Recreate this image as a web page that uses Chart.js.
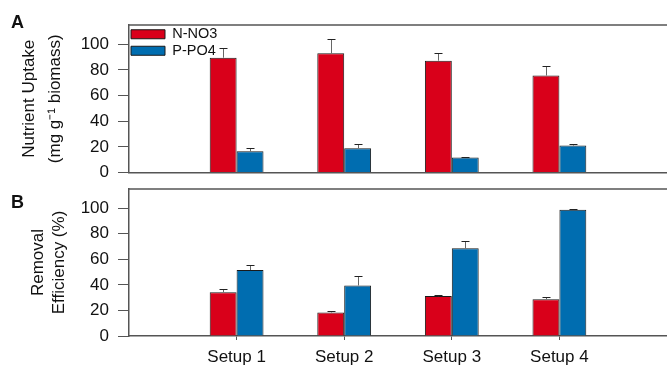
<!DOCTYPE html>
<html>
<head>
<meta charset="utf-8">
<script src="https://cdn.jsdelivr.net/npm/chart.js@4.4.0/dist/chart.umd.min.js"></script>
<style>
  html, body { margin: 0; padding: 0; background: #fff; }
  #wrap { position: relative; width: 667px; height: 367px; overflow: hidden; font-family: 'Liberation Sans', Arial, sans-serif; }
  canvas { position: absolute; left: 0; }
  #chartA { top: 0; }
  #chartB { top: 180px; }
  .tag { position: absolute; left: 11px; font-weight: bold; font-size: 18px; line-height: 1; color: #111; }
</style>
</head>
<body>
<div id="wrap">
  <canvas id="chartA" width="667" height="183"></canvas>
  <canvas id="chartB" width="667" height="187"></canvas>
  <div class="tag" style="top:13px">A</div>
  <div class="tag" style="top:193px">B</div>
</div>
<script>
'use strict';

// data
const setups = ['Setup 1', 'Setup 2', 'Setup 3', 'Setup 4'];
const seriesNames = ['N-NO3', 'P-PO4'];

const uptakeN = [89.5, 92.9, 87.2, 75.6];
const uptakeNErr = [7.3, 11.1, 6.2, 7.1];
const uptakeP = [16.5, 18.9, 11.6, 21.0];
const uptakePErr = [2.6, 3.4, 0.8, 1.0];

const removalN = [34.3, 18.4, 31.2, 28.8];
const removalNErr = [2.4, 1.2, 1.0, 1.8];
const removalP = [51.6, 39.5, 68.6, 98.7];
const removalPErr = [3.9, 7.6, 6.0, 0.3];

const yMax = 115;
const yStep = 20;

const colors = {
  red: '#D9001A',
  blue: '#006DB0',
  edge: '#1a1a1a',
  axis: '#555555',
  text: '#111111'
};

Chart.defaults.font.family = "'Liberation Sans', Arial, sans-serif";
Chart.defaults.color = colors.text;

// empty slot at each end so the groups sit where they do in the figure
const labels = [''].concat(setups, ['']);
const pad = arr => [null].concat(arr, [null]);

const errorBars = {
  id: 'errorBars',
  afterDatasetsDraw(chart) {
    const ctx = chart.ctx;
    const y = chart.scales.y;
    chart.data.datasets.forEach((ds, i) => {
      const meta = chart.getDatasetMeta(i);
      meta.data.forEach((bar, j) => {
        const v = ds.data[j];
        const e = ds.errors[j];
        if (v == null || e == null) return;
        const top = Math.round(y.getPixelForValue(v + e)) + 0.5;
        const x = Math.round(bar.x) + 0.5;
        ctx.save();
        ctx.lineWidth = 1;
        ctx.strokeStyle = '#666';
        ctx.beginPath();
        ctx.moveTo(x, bar.y);
        ctx.lineTo(x, top);
        ctx.stroke();
        ctx.strokeStyle = '#222';
        ctx.beginPath();
        ctx.moveTo(x - 4, top);
        ctx.lineTo(x + 4, top);
        ctx.stroke();
        ctx.restore();
      });
    });
  }
};

// frame line on top of the plot + keep the legend inside the plot area
const frame = {
  id: 'frame',
  afterLayout(chart) {
    const lg = chart.legend;
    if (lg && lg.options.display) {
      lg.top = chart.chartArea.top;
      lg.bottom = lg.top + lg.height;
    }
  },
  afterDraw(chart) {
    const { ctx, chartArea: a } = chart;
    ctx.save();
    ctx.strokeStyle = colors.axis;
    ctx.lineWidth = 1.5;
    ctx.beginPath();
    ctx.moveTo(a.left, a.top);
    ctx.lineTo(a.right, a.top);
    ctx.stroke();
    ctx.restore();
  }
};

function makeDatasets(nVals, nErr, pVals, pErr) {
  return [
    { label: seriesNames[0], data: pad(nVals), errors: pad(nErr), backgroundColor: colors.red, borderColor: colors.edge, borderWidth: 1 },
    { label: seriesNames[1], data: pad(pVals), errors: pad(pErr), backgroundColor: colors.blue, borderColor: colors.edge, borderWidth: 1 }
  ];
}

function makeOptions(o) {
  return {
    responsive: false,
    animation: false,
    layout: { padding: { top: o.padTop, left: 0, right: 0, bottom: 0 } },
    datasets: { bar: { categoryPercentage: 0.5, barPercentage: 1.0 } },
    plugins: {
      tooltip: { enabled: false },
      legend: {
        display: o.legend,
        position: 'chartArea',
        align: 'start',
        labels: { boxWidth: 34, boxHeight: 9, padding: 2, font: { size: 14.5 }, color: colors.text }
      }
    },
    scales: {
      x: {
        offset: false,
        border: { display: true, color: colors.axis, width: 1.5 },
        grid: {
          display: true,
          offset: false,
          drawOnChartArea: false,
          drawTicks: o.showX,
          tickLength: 4,
          tickColor: c => (labels[c.index] ? colors.axis : 'rgba(0,0,0,0)')
        },
        ticks: { display: o.showX, autoSkip: false, maxRotation: 0, padding: 7, font: { size: 17 }, color: colors.text },
        afterFit: s => { s.height = o.xHeight; s.paddingLeft = 0; s.paddingRight = 0; }
      },
      y: {
        min: 0,
        max: yMax,
        border: { display: true, color: colors.axis, width: 1.5 },
        grid: { display: true, drawOnChartArea: false, drawTicks: true, tickLength: 11, tickColor: colors.axis },
        ticks: { stepSize: yStep, includeBounds: false, padding: 9, font: { size: 17 }, color: colors.text },
        title: {
          display: true,
          text: o.title,
          color: colors.text,
          font: { size: 17, lineHeight: o.titleLH },
          padding: { top: o.titlePad, bottom: 0 }
        },
        afterFit: s => { s.width = 129; s.paddingTop = 0; s.paddingBottom = 0; }
      }
    }
  };
}

new Chart(document.getElementById('chartA'), {
  type: 'bar',
  data: { labels: labels, datasets: makeDatasets(uptakeN, uptakeNErr, uptakeP, uptakePErr) },
  options: makeOptions({
    padTop: 25, xHeight: 10.5, showX: false, legend: true,
    title: ['Nutrient Uptake', '(mg g\u207B\u00B9 biomass)'], titleLH: 1.53, titlePad: 16.5
  }),
  plugins: [errorBars, frame]
});

new Chart(document.getElementById('chartB'), {
  type: 'bar',
  data: { labels: labels, datasets: makeDatasets(removalN, removalNErr, removalP, removalPErr) },
  options: makeOptions({
    padTop: 9, xHeight: 31, showX: true, legend: false,
    title: ['Removal', 'Efficiency (%)'], titleLH: 1.22, titlePad: 28
  }),
  plugins: [errorBars, frame]
});
</script>
</body>
</html>
